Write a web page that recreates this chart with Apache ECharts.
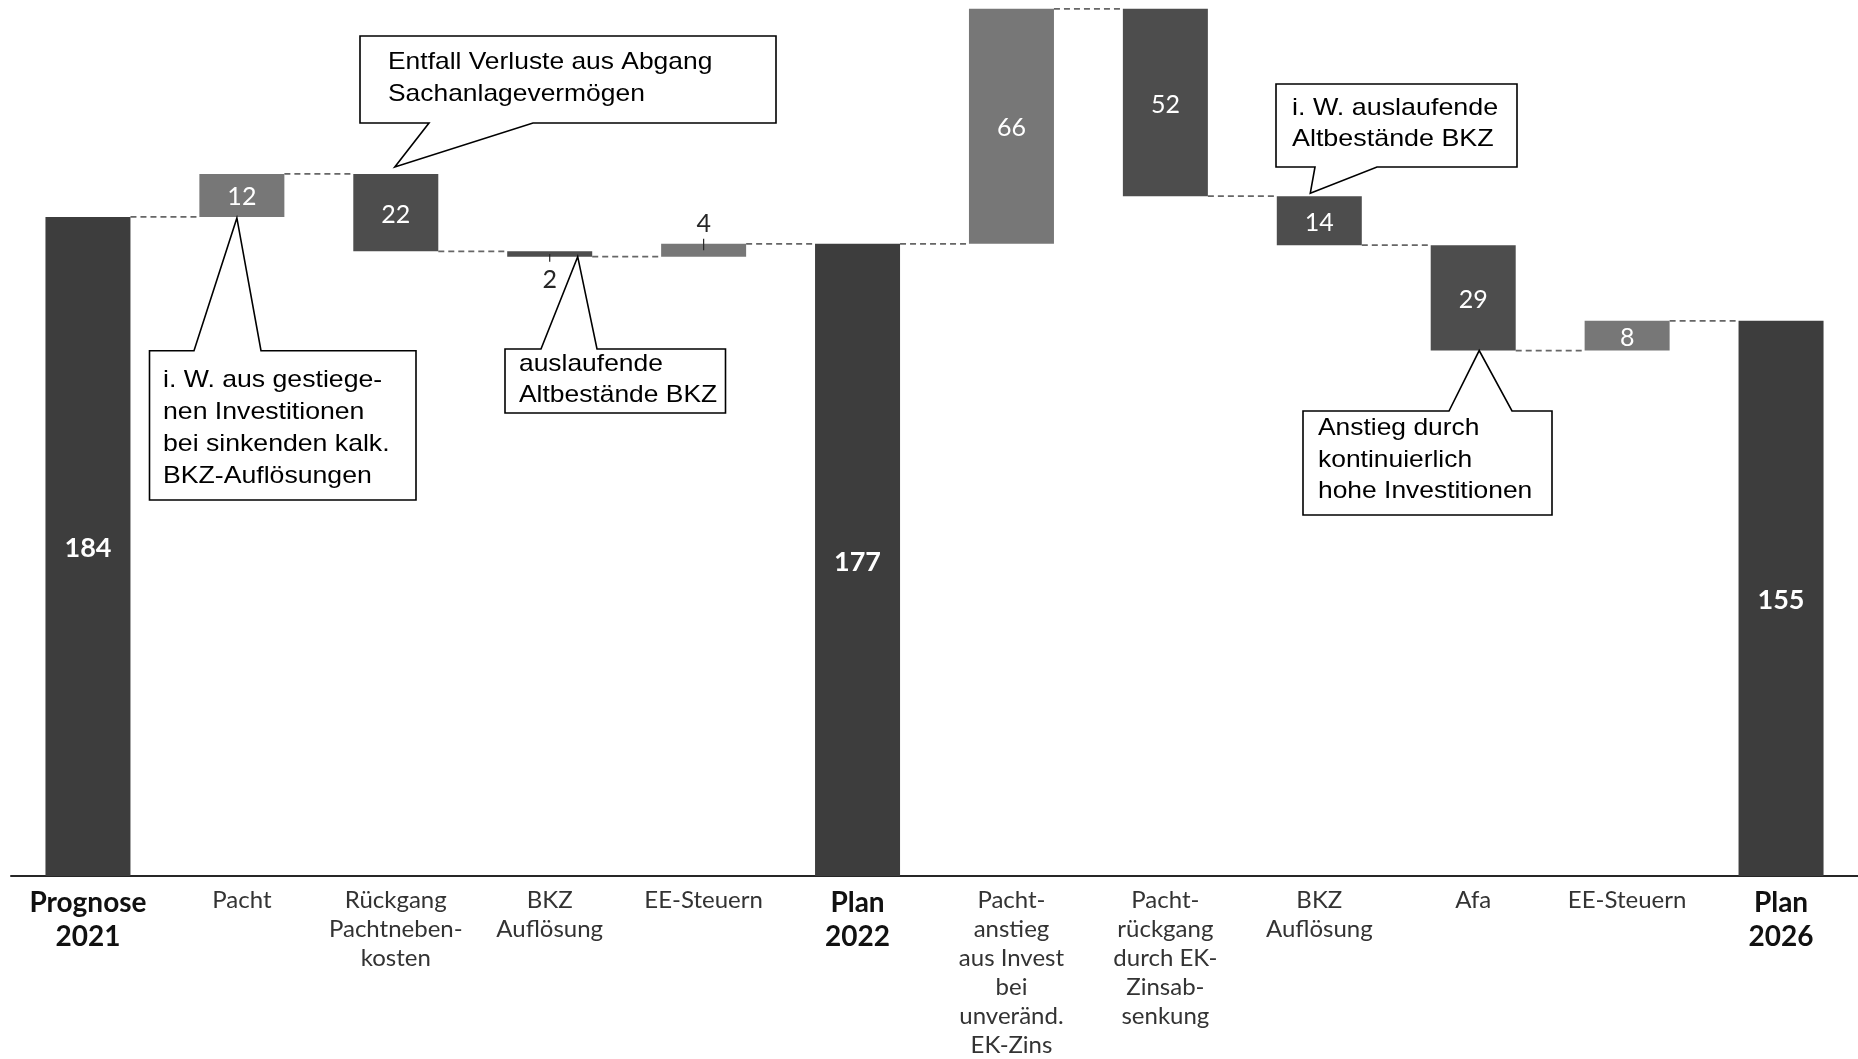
<!DOCTYPE html>
<html>
<head>
<meta charset="utf-8">
<script src="https://cdn.jsdelivr.net/npm/echarts@6/dist/echarts.min.js"></script>
<style>
html,body{margin:0;padding:0;background:#ffffff;}
#c{width:1858px;height:1059px;}
</style>
</head>
<body>
<div id="c"></div>
<script>
// ---------- data ----------
const categories = [
  'Prognose\n2021',
  'Pacht',
  'Rückgang\nPachtneben-\nkosten',
  'BKZ\nAuflösung',
  'EE-Steuern',
  'Plan\n2022',
  'Pacht-\nanstieg\naus Invest\nbei\nunveränd.\nEK-Zins',
  'Pacht-\nrückgang\ndurch EK-\nZinsab-\nsenkung',
  'BKZ\nAuflösung',
  'Afa',
  'EE-Steuern',
  'Plan\n2026'
];
// totals are absolute values, the others are changes
const values  = [184, 12, -21.6, -1.5, 3.6, 176.5, 65.6, -52.3, -13.7, -29.4, 8.3, 155];
const isTotal = [true, false, false, false, false, true, false, false, false, false, false, true];

const noteTexts = [
  ['Entfall Verluste aus Abgang', 'Sachanlagevermögen'],
  ['i. W. aus gestiege-', 'nen Investitionen', 'bei sinkenden kalk.', 'BKZ-Auflösungen'],
  ['auslaufende', 'Altbestände BKZ'],
  ['i. W. auslaufende', 'Altbestände BKZ'],
  ['Anstieg durch', 'kontinuierlich', 'hohe Investitionen']
];
const noteCategory = [2, 1, 3, 8, 9];

// ---------- derived waterfall geometry ----------
let running = 0;
const base = [], size = [], levelAfter = [];
values.forEach((v, i) => {
  if (isTotal[i]) {
    running = v;
    base.push(0); size.push(v);
  } else {
    const start = running;
    running = Math.round((running + v) * 10) / 10;
    base.push(Math.min(start, running));
    size.push(Math.abs(v));
  }
  levelAfter.push(running);
});
const barTop = i => Math.round((base[i] + size[i]) * 10) / 10;
const barBottom = i => base[i];

const BAR_W = 85;
const COL_TOTAL = '#3d3d3d', COL_DEC = '#4d4d4d', COL_INC = '#777777';

const mainData = size.map((s, i) => {
  const total = isTotal[i];
  const inc = !total && values[i] > 0;
  const small = !total && Math.abs(values[i]) < 5;
  return {
    value: s,
    itemStyle: { color: total ? COL_TOTAL : (inc ? COL_INC : COL_DEC) },
    label: {
      show: true,
      position: small ? (inc ? 'top' : 'bottom') : 'inside',
      distance: small ? (inc ? 7 : 11) : 5,
      offset: small ? [0, 0] : [0, 2],
      color: small ? '#262626' : '#ffffff',
      fontFamily: 'Lato',
      fontSize: total ? 27 : 25,
      fontWeight: total ? 'bold' : 'normal',
      formatter: () => String(Math.round(s))
    }
  };
});

const connectorData = levelAfter.slice(0, -1).map((l, i) => [i, l]);
const tickData = [];
values.forEach((v, i) => {
  if (!isTotal[i] && Math.abs(v) < 5) {
    const mid = base[i] + size[i] / 2;
    tickData.push([i, mid, v > 0 ? barTop(i) : barBottom(i), v > 0 ? -1 : 1]);
  }
});

const chart = echarts.init(document.getElementById('c'), null, { renderer: 'canvas' });

const option = {
  animation: false,
  backgroundColor: '#ffffff',
  grid: { left: 11, top: 2, width: 1853, bottom: 183, containLabel: false },
  xAxis: {
    type: 'category',
    data: categories,
    axisLine: { show: true, lineStyle: { color: '#262626', width: 2 } },
    axisTick: { show: false },
    axisLabel: {
      interval: 0,
      margin: 10,
      formatter: (v, i) => isTotal[i] ? '{b|' + v + '}' : '{r|' + v + '}',
      rich: {
        b: { fontFamily: 'Lato', fontSize: 28, fontWeight: 'bold', color: '#111111', lineHeight: 34, align: 'center' },
        r: { fontFamily: 'Lato', fontSize: 24, color: '#333333', lineHeight: 29, align: 'center' }
      }
    }
  },
  yAxis: { type: 'value', min: 0, max: 244, show: false, splitLine: { show: false } },
  series: [
    {
      name: 'base', type: 'bar', stack: 'wf', barWidth: BAR_W, silent: true,
      itemStyle: { color: 'rgba(0,0,0,0)' },
      data: base
    },
    {
      name: 'value', type: 'bar', stack: 'wf', barWidth: BAR_W,
      data: mainData
    },
    {
      name: 'connectors', type: 'custom', coordinateSystem: 'cartesian2d', silent: true, z: 1,
      encode: { x: 0, y: 1 },
      data: connectorData,
      renderItem: (params, api) => {
        const i = api.value(0), l = api.value(1);
        const p1 = api.coord([i, l]);
        const p2 = api.coord([i + 1, l]);
        return {
          type: 'line',
          shape: { x1: p1[0] + BAR_W / 2, y1: p1[1], x2: p2[0] - BAR_W / 2, y2: p2[1] },
          style: { stroke: '#666666', lineWidth: 1.8, lineDash: [6, 4] }
        };
      }
    },
    {
      name: 'ticks', type: 'custom', coordinateSystem: 'cartesian2d', silent: true, z: 5,
      encode: { x: 0, y: 1 },
      data: tickData,
      renderItem: (params, api) => {
        const i = api.value(0);
        const a = api.coord([i, api.value(1)]);
        const b = api.coord([i, api.value(2)]);
        const dir = api.value(3);
        return {
          type: 'line',
          shape: { x1: a[0], y1: a[1], x2: b[0], y2: b[1] + dir * 5 },
          style: { stroke: '#262626', lineWidth: 1.2 }
        };
      }
    }
  ]
};
chart.setOption(option);

// ---------- callout annotations ----------
const layouts = [
  { box: [360, 36, 776, 123],   side: 'bottom', base: [429, 533],   edge: 'top',    dx: -1, dy: -7, textX: 388,  lines: [62.2, 94.7],          sx: 1.10 },
  { box: [149.5, 350.7, 416, 500], side: 'top', base: [194, 261],   edge: 'bottom', dx: -5, dy: 1,  textX: 163,  lines: [380, 412, 444, 476],  sx: 1.11 },
  { box: [505, 349, 725.5, 413], side: 'top',   base: [541, 597],   edge: 'bottom', dx: 28, dy: 0,  textX: 519,  lines: [364.7, 395],          sx: 1.10 },
  { box: [1276, 84, 1517, 167], side: 'bottom', base: [1315, 1377], edge: 'top',    dx: -9, dy: -3, textX: 1292, lines: [108.7, 139.5],        sx: 1.12 },
  { box: [1303, 411, 1552, 515], side: 'top',   base: [1449, 1512], edge: 'bottom', dx: 6,  dy: 0,  textX: 1318, lines: [428.7, 460, 491.7],   sx: 1.10 }
];
const graphics = [];
layouts.forEach((L, k) => {
  const cat = noteCategory[k];
  const lvl = L.edge === 'top' ? barTop(cat) : barBottom(cat);
  const p = chart.convertToPixel({ seriesIndex: 1 }, [cat, lvl]);
  const tip = [p[0] + L.dx, p[1] + L.dy];
  const [x0, y0, x1, y1] = L.box;
  let pts;
  if (L.side === 'bottom') {
    pts = [[x0, y0], [x1, y0], [x1, y1], [L.base[1], y1], tip, [L.base[0], y1], [x0, y1]];
  } else {
    pts = [[x0, y0], [L.base[0], y0], tip, [L.base[1], y0], [x1, y0], [x1, y1], [x0, y1]];
  }
  graphics.push({
    type: 'polygon', z: 100, silent: true,
    shape: { points: pts },
    style: { fill: '#ffffff', stroke: '#000000', lineWidth: 1.6 }
  });
  noteTexts[k].forEach((t, j) => {
    graphics.push({
      type: 'text', z: 101, silent: true,
      x: L.textX, y: L.lines[j], scaleX: L.sx, scaleY: 1,
      style: {
        text: t, x: 0, y: 0, fill: '#000000',
        font: '24px "Liberation Sans", Arial, sans-serif',
        align: 'left', verticalAlign: 'middle'
      }
    });
  });
});
chart.setOption({ graphic: graphics });
</script>
</body>
</html>
